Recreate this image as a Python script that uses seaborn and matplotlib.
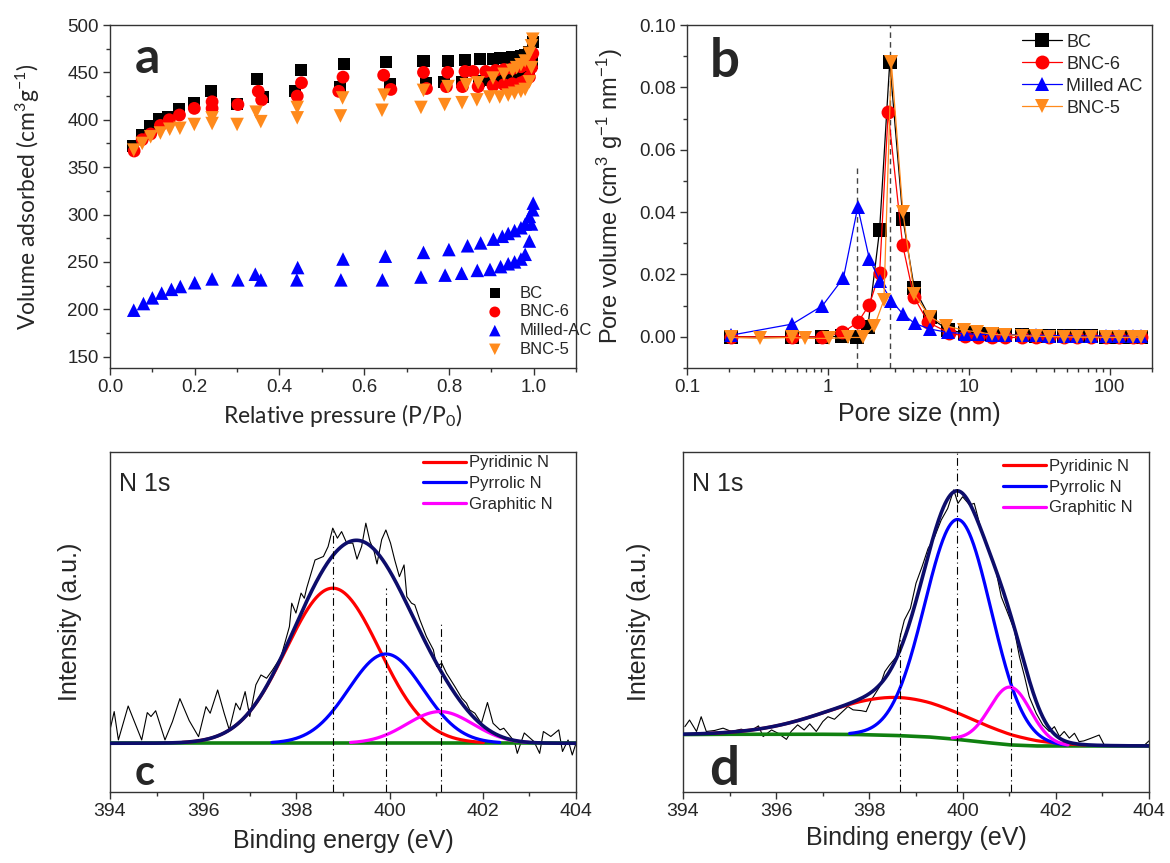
import numpy as np
import matplotlib
matplotlib.use("Agg")
import matplotlib.pyplot as plt
import seaborn as sns
from matplotlib.ticker import MultipleLocator, FixedLocator, LogLocator, NullFormatter

# ---------------- panel a: N2 isotherms ----------------
bc_ads_x = [0.055, 0.076, 0.094, 0.115, 0.137, 0.162, 0.199, 0.30, 0.36, 0.437, 0.544, 0.661, 0.746, 0.789,
            0.832, 0.87, 0.89, 0.91, 0.93, 0.95, 0.96, 0.97, 0.98, 0.99, 0.995]
bc_ads_y = [372, 384, 393, 401, 403, 411, 418, 417, 424, 430, 435, 438, 439, 440,
            440, 441, 442, 442, 443, 443, 444, 445, 446, 450, 460]
bc_des_x = [0.998, 0.99, 0.98, 0.97, 0.96, 0.95, 0.93, 0.92, 0.904, 0.873, 0.838, 0.797, 0.740, 0.651,
            0.553, 0.451, 0.348, 0.239]
bc_des_y = [482, 472, 468, 467, 466, 466, 465, 465, 464, 464, 463, 462, 462, 461, 459, 453, 443, 430]

bnc6_ads_x = [0.057, 0.076, 0.096, 0.119, 0.14, 0.164, 0.199, 0.241, 0.302, 0.358, 0.442, 0.54, 0.663, 0.747,
              0.794, 0.832, 0.869, 0.904, 0.93, 0.95, 0.97, 0.98, 0.99, 0.995]
bnc6_ads_y = [367, 379, 385, 394, 400, 405, 412, 412, 416, 421, 425, 430, 432, 433,
              435, 435, 435, 436, 437, 438, 439, 441, 445, 455]
bnc6_des_x = [0.998, 0.99, 0.98, 0.97, 0.95, 0.93, 0.91, 0.887, 0.857, 0.838, 0.797, 0.74, 0.646, 0.55,
              0.452, 0.35, 0.241]
bnc6_des_y = [470, 462, 458, 456, 454, 453, 452, 451, 451, 451, 450, 450, 447, 445, 439, 430, 419]

mac_ads_x = [0.056, 0.079, 0.10, 0.122, 0.145, 0.166, 0.20, 0.241, 0.302, 0.356, 0.441, 0.545, 0.643, 0.734,
             0.791, 0.83, 0.867, 0.897, 0.922, 0.94, 0.955, 0.97, 0.98, 0.99, 0.995, 0.998]
mac_ads_y = [199, 206, 212, 217, 221, 224, 228, 232, 231, 231, 231, 231, 231, 234,
             236, 238, 241, 242, 245, 248, 250, 253, 258, 272, 290, 305]
mac_des_x = [0.999, 0.99, 0.98, 0.97, 0.955, 0.94, 0.926, 0.905, 0.875, 0.844, 0.80, 0.74, 0.65, 0.55,
             0.443, 0.343]
mac_des_y = [312, 298, 290, 286, 283, 280, 277, 274, 270, 267, 263, 260, 256, 253, 244, 237]

bnc5_ads_x = [0.056, 0.076, 0.096, 0.119, 0.141, 0.165, 0.199, 0.241, 0.30, 0.356, 0.442, 0.544, 0.642, 0.734,
              0.79, 0.831, 0.866, 0.896, 0.92, 0.94, 0.955, 0.97, 0.98, 0.99, 0.995]
bnc5_ads_y = [368, 375, 382, 386, 390, 391, 395, 396, 395, 398, 402, 404, 410, 413,
              416, 418, 421, 424, 424, 426, 428, 430, 432, 440, 455]
bnc5_des_x = [0.998, 0.995, 0.99, 0.98, 0.97, 0.96, 0.95, 0.93, 0.904, 0.869, 0.841, 0.798, 0.74, 0.647,
              0.549, 0.442, 0.345, 0.241]
bnc5_des_y = [485, 478, 470, 462, 458, 455, 452, 448, 444, 439, 437, 435, 431, 426, 423, 413, 408, 402]

# ---------------- panel b: pore size distribution ----------------
bc_px = [0.204, 0.56, 0.916, 1.27, 1.61, 1.92, 2.33, 2.75, 3.41, 4.1, 5.29, 7.16, 9.4, 11.7, 14.6, 18.2,
         23.9, 29.8, 37.1, 47.4, 59.1, 73.6, 94.2, 117, 146, 167]
bc_py = [0.0, 0.0, 0.0, 0.0002, 0.0, 0.003, 0.0343, 0.0882, 0.0378, 0.0157, 0.0062, 0.0022, 0.0012, 0.0010,
         0.0008, 0.0006, 0.0005, 0.0004, 0.0003, 0.0003, 0.0002, 0.0002, 0.0001, 0.0001, 0.0001, 0.0001]
bnc6_px = [0.204, 0.56, 0.916, 1.27, 1.63, 1.97, 2.33, 2.68, 3.39, 4.07, 5.16, 7.3, 9.4, 11.7, 14.6, 18.2,
           23.9, 29.8, 37.1, 47.4, 59.1, 73.6, 94.2, 117, 146, 167]
bnc6_py = [0.0, 0.0, 0.0, 0.0014, 0.0046, 0.0103, 0.0204, 0.0721, 0.0296, 0.0129, 0.0046, 0.0012, 0.0002,
           0.0, -0.0001, -0.0002, -0.0002, -0.0002, -0.0002, -0.0002, -0.0002, -0.0002, -0.0002, -0.0002,
           -0.0002, -0.0002]
mac_px = [0.204, 0.56, 0.916, 1.29, 1.63, 1.97, 2.33, 2.82, 3.41, 4.13, 5.29, 7.16, 9.4, 11.7, 14.6, 18.2,
          23.9, 29.8, 37.1, 47.4, 59.1, 73.6, 94.2, 117, 146, 167]
mac_py = [0.0005, 0.0041, 0.010, 0.0189, 0.0416, 0.025, 0.018, 0.0116, 0.0073, 0.0043, 0.0025, 0.0014,
          0.0010, 0.0008, 0.0007, 0.0006, 0.0005, 0.0005, 0.0004, 0.0004, 0.0003, 0.0003, 0.0003, 0.0003,
          0.0002, 0.0002]
bnc5_px = [0.204, 0.33, 0.56, 0.69, 1.02, 1.39, 1.78, 2.14, 2.5, 2.82, 3.41, 4.1, 5.29, 6.95, 9.2, 11.5,
           14.6, 18.2, 23.9, 29.8, 37.1, 47.4, 59.1, 73.6, 94.2, 117, 146, 167]
bnc5_py = [-0.0002, -0.0005, -0.0002, -0.0005, -0.0005, -0.0002, -0.0002, 0.0035, 0.0118, 0.0882, 0.040,
           0.0137, 0.0064, 0.0035, 0.0021, 0.0016, 0.0008, 0.0006, 0.0004, 0.0002, 0.0001, 0.0, -0.0001,
           -0.0001, -0.0002, -0.0002, -0.0002, -0.0002]
psd_marks = [1.62, 2.77]
psd_mark_tops = [0.055, 0.10]

# ---------------- panel c: N 1s spectrum ----------------
c_raw_x = [394.0, 394.09, 394.18, 394.39, 394.68, 394.8, 394.88, 394.98, 395.18, 395.34, 395.5, 395.7,
           395.9, 396.06, 396.15, 396.31, 396.45, 396.56, 396.7, 396.79, 396.9, 397.0, 397.13, 397.24,
           397.36, 397.49, 397.67, 397.85, 397.9, 397.99, 398.1, 398.17, 398.22, 398.4, 398.58, 398.68,
           398.78, 398.88, 398.97, 399.08, 399.21, 399.3, 399.4, 399.49, 399.58, 399.66, 399.73, 399.83,
           399.92, 400.02, 400.11, 400.21, 400.31, 400.37, 400.47, 400.54, 400.65, 400.79, 400.94, 401.01,
           401.12, 401.22, 401.4, 401.55, 401.65, 401.72, 401.83, 401.97, 402.1, 402.22, 402.37, 402.45,
           402.68, 402.74, 402.89, 403.1, 403.22, 403.3, 403.46, 403.63, 403.71, 403.83, 403.92, 404.0]
c_raw_y = [0.065, 0.154, 0.016, 0.181, 0.016, 0.149, 0.13, 0.158, 0.016, 0.105, 0.217, 0.11,
           0.032, 0.178, 0.146, 0.259, 0.146, 0.065, 0.195, 0.162, 0.251, 0.13, 0.284, 0.332,
           0.316, 0.357, 0.421, 0.567, 0.681, 0.633, 0.73, 0.705, 0.754, 0.891, 0.908, 0.956,
           1.046, 0.997, 1.029, 0.973, 0.973, 0.895, 0.957, 1.07, 0.98, 0.94, 0.872, 0.99,
           1.037, 0.973, 0.891, 0.81, 0.867, 0.713, 0.681, 0.673, 0.6, 0.519, 0.454, 0.373,
           0.389, 0.341, 0.276, 0.219, 0.195, 0.162, 0.146, 0.097, 0.198, 0.097, 0.065, 0.073,
           0.008, -0.049, 0.05, 0.008, -0.049, 0.057, 0.033, 0.065, -0.04, 0.016, -0.057, 0.0]
c_bg_x = [394.0, 404.0]
c_bg_y = [0.0, 0.0]
# fitted components: centre (eV), height, sigma (eV)
c_centers = [398.78, 399.92, 401.08]
c_heights = [0.754, 0.434, 0.154]
c_sigmas = [1.0, 0.8, 0.71]
c_marks = [398.78, 399.93, 401.1]
c_mark_tops = [1.047, 0.755, 0.587]

# ---------------- panel d: N 1s spectrum ----------------
d_raw_x = [394.04, 394.14, 394.29, 394.39, 394.5, 394.68, 394.86, 395.04, 395.25, 395.43, 395.62, 395.72,
           395.9, 396.04, 396.22, 396.32, 396.46, 396.6, 396.72, 396.86, 397.0, 397.11, 397.25, 397.4,
           397.54, 397.65, 397.82, 397.93, 398.04, 398.22, 398.33, 398.43, 398.58, 398.67, 398.75, 398.88,
           399.0, 399.13, 399.26, 399.4, 399.54, 399.68, 399.81, 399.9, 400.0, 400.15, 400.25, 400.4,
           400.54, 400.72, 400.83, 400.97, 401.11, 401.22, 401.33, 401.43, 401.58, 401.72, 401.86, 401.97,
           402.08, 402.18, 402.29, 402.4, 402.5, 402.6, 402.75, 402.93, 403.05, 403.3, 403.6, 403.9, 404.0]
d_raw_y = [0.076, 0.102, 0.057, 0.115, 0.057, 0.061, 0.07, 0.057, 0.066, 0.057, 0.079, 0.037,
           0.063, 0.05, 0.026, 0.057, 0.083, 0.063, 0.087, 0.057, 0.096, 0.115, 0.105, 0.131,
           0.155, 0.142, 0.139, 0.135, 0.181, 0.233, 0.292, 0.318, 0.351, 0.437, 0.495, 0.541,
           0.64, 0.705, 0.777, 0.823, 0.888, 0.934, 1.007, 0.954, 0.98, 0.948, 0.954, 0.849,
           0.784, 0.685, 0.587, 0.522, 0.456, 0.351, 0.273, 0.194, 0.128, 0.083, 0.057, 0.076,
           0.037, 0.057, 0.031, 0.05, 0.017, 0.02, 0.03, 0.043, 0.0, 0.005, 0.0, 0.003, 0.02]
d_bg_x = [394.0, 395.0, 396.0, 397.0, 397.75, 398.6, 399.3, 399.88, 400.54, 401.04, 401.6, 402.5, 404.0]
d_bg_y = [0.045, 0.046, 0.046, 0.046, 0.045, 0.041, 0.035, 0.026, 0.013, 0.004, 0.0, 0.0, 0.0]
d_centers = [398.61, 399.9, 401.02]
d_heights = [0.15, 0.865, 0.227]
d_sigmas = [1.5, 0.71, 0.44]
d_marks = [398.65, 399.88, 401.04]
d_mark_tops = [0.444, 1.2, 0.385]

comp_names = ["Pyridinic N", "Pyrrolic N", "Graphitic N"]
comp_colors = ["#ff0000", "#0000ff", "#ff00ff"]

sns.set_style("ticks")
plt.rcParams["font.family"] = ["Liberation Sans", "DejaVu Sans"]
plt.rcParams["mathtext.default"] = "regular"
plt.rcParams["axes.edgecolor"] = "#333333"
plt.rcParams["axes.linewidth"] = 1.0
plt.rcParams["xtick.direction"] = "out"
plt.rcParams["ytick.direction"] = "out"

W, H = 1170, 863
fig = plt.figure(figsize=(W / 100, H / 100), dpi=100)


def px_axes(l, t, r, b):
    return fig.add_axes([l / W, 1 - b / H, (r - l) / W, (b - t) / H])


def style_ticks(ax, size=13.5):
    ax.tick_params(which="major", length=5, width=1, color="#333333", labelsize=size, pad=3,
                   top=False, right=False)
    ax.tick_params(which="minor", length=3, width=1, color="#333333", top=False, right=False)


ax_a = px_axes(110, 25, 576, 368)
ax_b = px_axes(687, 25, 1152, 368)
ax_c = px_axes(110, 452, 576, 792)
ax_d = px_axes(683, 452, 1149, 792)

# ---- panel a
orange = "#ff8a1c"
iso = [("BC", "s", "black", 75, bc_ads_x, bc_ads_y, bc_des_x, bc_des_y),
       ("BNC-6", "o", "#ff0000", 85, bnc6_ads_x, bnc6_ads_y, bnc6_des_x, bnc6_des_y),
       ("Milled-AC", "^", "#0000ff", 95, mac_ads_x, mac_ads_y, mac_des_x, mac_des_y),
       ("BNC-5", "v", orange, 95, bnc5_ads_x, bnc5_ads_y, bnc5_des_x, bnc5_des_y)]
for name, mk, col, sz, xa, ya, xd, yd in iso:
    sns.scatterplot(x=xa, y=ya, marker=mk, s=sz, color=col, edgecolor="none", ax=ax_a, label=name)
    sns.scatterplot(x=xd, y=yd, marker=mk, s=sz, color=col, edgecolor="none", ax=ax_a)
ax_a.set_xlim(0, 1.1)
ax_a.xaxis.set_major_locator(FixedLocator([0, 0.2, 0.4, 0.6, 0.8, 1.0]))
ax_a.xaxis.set_minor_locator(MultipleLocator(0.1))
ax_a.yaxis.set_major_locator(MultipleLocator(50))
ax_a.yaxis.set_minor_locator(MultipleLocator(25))
ax_a.set_ylim(138, 500)
style_ticks(ax_a)
ax_a.set_xticklabels(["0.0", "0.2", "0.4", "0.6", "0.8", "1.0"])
ax_a.set_xlabel("Relative pressure (P/P$_0$)", fontsize=16.5, family="Lato")
ax_a.set_ylabel("Volume adsorbed (cm$^3$g$^{-1}$)", fontsize=16.5, family="Lato")
ax_a.xaxis.set_label_coords(0.5, -0.10)
ax_a.yaxis.set_label_coords(-0.146, 0.5)
ax_a.legend(loc="upper left", bbox_to_anchor=(0.79, 0.24), frameon=False, fontsize=12,
            handletextpad=0.5, labelspacing=0.22, borderpad=0, borderaxespad=0, markerscale=0.85)

# ---- panel b
psd = [("BC", "s", "black", bc_px, bc_py), ("BNC-6", "o", "#ff0000", bnc6_px, bnc6_py),
       ("Milled AC", "^", "#0000ff", mac_px, mac_py), ("BNC-5", "v", orange, bnc5_px, bnc5_py)]
for name, mk, col, xs, ys in psd:
    sns.lineplot(x=xs, y=ys, marker=mk, markersize=10, markeredgewidth=0, color=col, lw=0.9,
                 estimator=None, ax=ax_b, label=name)
for xm, top in zip(psd_marks, psd_mark_tops):
    ax_b.plot([xm, xm], [-0.01, top], ls=(0, (4, 3)), color="#444444", lw=1.0, zorder=1)
ax_b.set_xscale("log")
ax_b.set_xlim(0.1, 200)
ax_b.set_ylim(-0.01, 0.10)
ax_b.xaxis.set_major_locator(FixedLocator([0.1, 1, 10, 100]))
ax_b.xaxis.set_minor_locator(LogLocator(base=10, subs=np.arange(2, 10)))
ax_b.xaxis.set_minor_formatter(NullFormatter())
ax_b.set_xticklabels(["0.1", "1", "10", "100"])
ax_b.yaxis.set_major_locator(MultipleLocator(0.02))
ax_b.yaxis.set_minor_locator(MultipleLocator(0.01))
ax_b.yaxis.set_major_formatter(matplotlib.ticker.FormatStrFormatter("%.2f"))
style_ticks(ax_b)
ax_b.set_xlabel("Pore size (nm)", fontsize=18)
ax_b.set_ylabel("Pore volume (cm$^3$ g$^{-1}$ nm$^{-1}$)", fontsize=17)
ax_b.xaxis.set_label_coords(0.5, -0.10)
ax_b.yaxis.set_label_coords(-0.133, 0.5)
ax_b.legend(loc="upper left", bbox_to_anchor=(0.72, 0.975), frameon=False, fontsize=13,
            handlelength=2.2, handletextpad=0.25, labelspacing=0.28, borderpad=0, borderaxespad=0)

# ---- panels c, d
xs_fit = np.linspace(394, 404, 801)


def xps_panel(ax, raw_x, raw_y, bg_x, bg_y, centers, heights, sigmas, marks, tops, ylim, leg_anchor):
    bg = np.interp(xs_fit, bg_x, bg_y)
    comps = []
    for c0, h, s in zip(centers, heights, sigmas):
        comps.append(h * np.exp(-(xs_fit - c0) ** 2 / (2 * s ** 2)))
    env = bg + np.sum(comps, axis=0)
    sns.lineplot(x=raw_x, y=raw_y, color="black", lw=0.8, estimator=None, ax=ax, zorder=2)
    sns.lineplot(x=bg_x, y=bg_y, color="#108010", lw=2.6, estimator=None, ax=ax, zorder=3)
    for comp, name, col in zip(comps, comp_names, comp_colors):
        keep = comp > 0.004
        sns.lineplot(x=xs_fit[keep], y=(bg + comp)[keep], color=col, lw=2.3, estimator=None,
                     ax=ax, label=name, zorder=4)
    sns.lineplot(x=xs_fit, y=env, color="#0d0d6b", lw=2.6, estimator=None, ax=ax, zorder=5)
    for xm, top in zip(marks, tops):
        ax.plot([xm, xm], [ylim[0], top], color="black", lw=0.8, ls=(0, (7, 3, 1, 3)), zorder=6)
    ax.set_xlim(394, 404)
    ax.set_ylim(*ylim)
    ax.xaxis.set_major_locator(MultipleLocator(2))
    ax.xaxis.set_minor_locator(MultipleLocator(1))
    ax.set_yticks([])
    style_ticks(ax, size=14)
    ax.set_xlabel("Binding energy (eV)", fontsize=18)
    ax.set_ylabel("Intensity (a.u.)", fontsize=18)
    ax.text(0.02, 0.885, "N 1s", transform=ax.transAxes, fontsize=18, ha="left", va="baseline")
    ax.legend(loc="upper left", bbox_to_anchor=leg_anchor, frameon=False, fontsize=12,
              handlelength=2.6, handletextpad=0.15, labelspacing=0.35, borderpad=0, borderaxespad=0)


xps_panel(ax_c, c_raw_x, c_raw_y, c_bg_x, c_bg_y, c_centers, c_heights, c_sigmas, c_marks, c_mark_tops,
          (-0.237, 1.416), (0.672, 0.99))
ax_c.xaxis.set_label_coords(0.5, -0.11)
ax_c.yaxis.set_label_coords(-0.06, 0.5)
xps_panel(ax_d, d_raw_x, d_raw_y, d_bg_x, d_bg_y, d_centers, d_heights, d_sigmas, d_marks, d_mark_tops,
          (-0.181, 1.156), (0.687, 0.98))
ax_d.xaxis.set_label_coords(0.5, -0.10)
ax_d.yaxis.set_label_coords(-0.069, 0.5)

# panel letters
for letter, x, y, size in [("a", 147, 73, 36), ("b", 725, 77, 38), ("c", 145, 785, 30), ("d", 724, 785, 38)]:
    fig.text(x / W, 1 - y / H, letter, fontsize=size, fontweight="bold", family="Lato",
             ha="center", va="baseline")

fig.savefig("out.png", dpi=100)
